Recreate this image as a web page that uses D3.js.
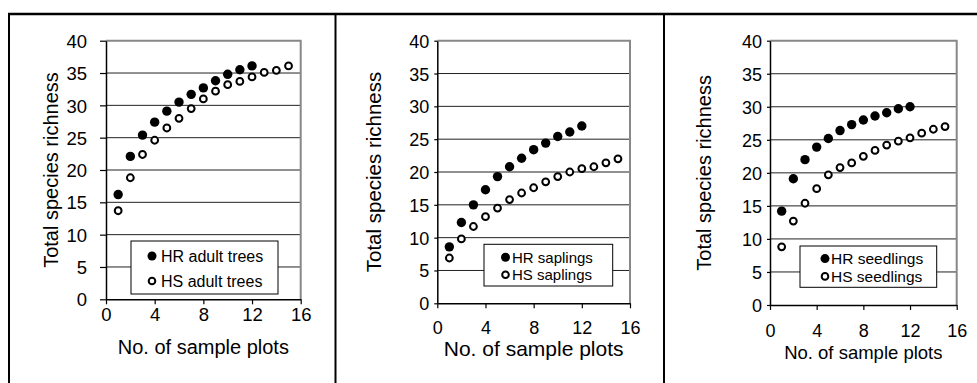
<!DOCTYPE html>
<html>
<head>
<meta charset="utf-8">
<script src="https://cdn.jsdelivr.net/npm/d3@7"></script>
<style>
  body { margin: 0; background: #fff; }
  svg { display: block; font-family: "Liberation Sans", Arial, sans-serif; }
</style>
</head>
<body>
<svg id="chart" width="977" height="383"></svg>
<script>
// sample plot numbers (x categories)
var plotsHR = [1, 2, 3, 4, 5, 6, 7, 8, 9, 10, 11, 12];
var plotsHS = [1, 2, 3, 4, 5, 6, 7, 8, 9, 10, 11, 12, 13, 14, 15];

// species richness
var adultHR = [16.2, 22.1, 25.4, 27.4, 29.1, 30.5, 31.7, 32.7, 33.8, 34.8, 35.5, 36.1];
var adultHS = [13.7, 18.8, 22.4, 24.6, 26.5, 28.0, 29.5, 31.0, 32.2, 33.2, 33.7, 34.4, 35.1, 35.4, 36.1];
var saplingHR = [8.6, 12.3, 15.0, 17.3, 19.3, 20.8, 22.1, 23.4, 24.4, 25.4, 26.1, 27.0];
var saplingHS = [6.9, 9.8, 11.7, 13.2, 14.5, 15.8, 16.8, 17.6, 18.5, 19.3, 20.0, 20.5, 20.8, 21.4, 22.0];
var seedlingHR = [14.2, 19.1, 22.0, 23.9, 25.2, 26.4, 27.3, 28.0, 28.6, 29.1, 29.7, 30.0];
var seedlingHS = [8.8, 12.7, 15.4, 17.6, 19.7, 20.8, 21.5, 22.5, 23.4, 24.2, 24.8, 25.3, 26.0, 26.6, 27.0];

var xTicks = [0, 4, 8, 12, 16];
var yTicks = [0, 5, 10, 15, 20, 25, 30, 35, 40];
var xTitle = "No. of sample plots";
var yTitle = "Total species richness";

var svg = d3.select("#chart");

// outer frame of the figure
svg.append("line").attr("x1", 8).attr("x2", 977).attr("y1", 14).attr("y2", 14)
    .attr("stroke", "#000").attr("stroke-width", 2.5);
[9, 335.5, 664].forEach(function(x) {
  svg.append("line").attr("x1", x).attr("x2", x).attr("y1", 13).attr("y2", 383)
      .attr("stroke", "#000").attr("stroke-width", 2);
});

// panel layout
var panels = [
  { hr: adultHR, hs: adultHS, names: ["HR adult trees", "HS adult trees"],
    left: 106, right: 300.7, top: 40.7, bottom: 299.3, yTick: 6, yLabGap: 13, tickSize: 18.5,
    tickY: 321, titleY: 354, titleSize: 20, yTitleX: 58, yTitleSize: 20,
    legend: { x: 131, y: 241, w: 147, h: 53, mx: 152, tx: 161, rows: [256, 281], size: 16 } },
  { hr: saplingHR, hs: saplingHS, names: ["HR saplings", "HS saplings"],
    left: 437.3, right: 630, top: 40.7, bottom: 303.3, yTick: 3, yLabGap: 5, tickSize: 18,
    tickY: 334, titleY: 356, titleSize: 21, yTitleX: 381, yTitleSize: 20.5,
    legend: { x: 484, y: 244.3, w: 128.7, h: 41.7, mx: 505.5, tx: 512, rows: [257.3, 274.7], size: 15 } },
  { hr: seedlingHR, hs: seedlingHS, names: ["HR seedlings", "HS seedlings"],
    left: 770, right: 956.7, top: 40.7, bottom: 305, yTick: 3, yLabGap: 5, tickSize: 18,
    tickY: 337, titleY: 359, titleSize: 18.5, yTitleX: 711, yTitleSize: 20,
    legend: { x: 800, y: 246, w: 136.7, h: 41.3, mx: 825, tx: 831, rows: [258.6, 276.4], size: 15.5 } }
];

function drawPanel(p) {
  var x = d3.scaleLinear().domain([0, 16]).range([p.left, p.right]);
  var y = d3.scaleLinear().domain([0, 40]).range([p.bottom, p.top]);
  var g = svg.append("g");

  // gridlines
  g.selectAll(".grid").data(yTicks.filter(function(t) { return t > 0 && t < 40; }))
    .enter().append("line")
      .attr("x1", x(0)).attr("x2", x(16))
      .attr("y1", function(d) { return y(d); }).attr("y2", function(d) { return y(d); })
      .attr("stroke", "#222").attr("stroke-width", 1);

  // gray plot frame (top + right)
  g.append("path")
      .attr("d", "M" + x(0) + "," + y(40) + "H" + x(16) + "V" + y(0))
      .attr("fill", "none").attr("stroke", "#888").attr("stroke-width", 2);

  // axes
  var xAxis = g.append("g")
      .attr("transform", "translate(0," + y(0) + ")")
      .call(d3.axisBottom(x).tickValues(xTicks).tickSize(5).tickSizeOuter(0).tickFormat(d3.format("d")));
  xAxis.selectAll("text").attr("y", p.tickY - y(0)).attr("dy", 0)
      .attr("font-size", p.tickSize).attr("fill", "#000");

  var yAxis = g.append("g")
      .attr("transform", "translate(" + x(0) + ",0)")
      .call(d3.axisLeft(y).tickValues(yTicks).tickSize(p.yTick).tickSizeOuter(0).tickFormat(d3.format("d")));
  yAxis.selectAll("text").attr("x", -(p.yTick + p.yLabGap)).attr("dy", "0.36em")
      .attr("font-size", p.tickSize).attr("fill", "#000");

  [xAxis, yAxis].forEach(function(a) {
    a.select(".domain").attr("stroke", "#000").attr("stroke-width", 1.5);
    a.selectAll(".tick line").attr("stroke", "#000").attr("stroke-width", 1.2);
  });

  // titles
  g.append("text").attr("x", (p.left + p.right) / 2).attr("y", p.titleY)
      .attr("text-anchor", "middle").attr("font-size", p.titleSize).text(xTitle);
  g.append("text")
      .attr("transform", "translate(" + p.yTitleX + "," + (p.top + p.bottom) / 2 + ") rotate(-90)")
      .attr("text-anchor", "middle").attr("font-size", p.yTitleSize).text(yTitle);

  // HS (open) then HR (filled)
  g.selectAll(".hs").data(p.hs).enter().append("circle")
      .attr("cx", function(d, i) { return x(plotsHS[i]); })
      .attr("cy", function(d) { return y(d); })
      .attr("r", 3.4).attr("fill", "#fff").attr("stroke", "#000").attr("stroke-width", 2);
  g.selectAll(".hr").data(p.hr).enter().append("circle")
      .attr("cx", function(d, i) { return x(plotsHR[i]); })
      .attr("cy", function(d) { return y(d); })
      .attr("r", 4.7).attr("fill", "#000");

  // legend
  var L = p.legend;
  g.append("rect").attr("x", L.x).attr("y", L.y).attr("width", L.w).attr("height", L.h)
      .attr("fill", "#fff").attr("stroke", "#000").attr("stroke-width", 1);
  g.append("circle").attr("cx", L.mx).attr("cy", L.rows[0]).attr("r", 4.5).attr("fill", "#000");
  g.append("circle").attr("cx", L.mx).attr("cy", L.rows[1]).attr("r", 3.3)
      .attr("fill", "#fff").attr("stroke", "#000").attr("stroke-width", 2);
  p.names.forEach(function(n, i) {
    g.append("text").attr("x", L.tx).attr("y", L.rows[i]).attr("dy", "0.36em")
        .attr("font-size", L.size).text(n);
  });
}

panels.forEach(drawPanel);
</script>
</body>
</html>
